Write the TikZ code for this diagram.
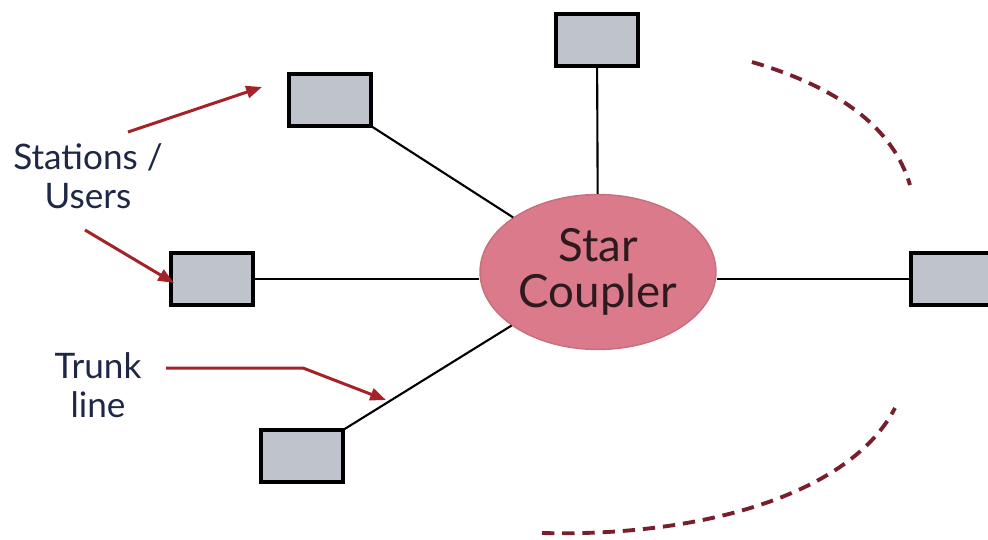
\documentclass[tikz,border=0pt]{standalone}
\usepackage{fontspec}
\setmainfont{Lato}
\usetikzlibrary{shapes.geometric,arrows.meta}
\definecolor{boxgray}{RGB}{191,195,203}
\definecolor{pinkfill}{RGB}{218,122,138}
\definecolor{pinkedge}{RGB}{200,110,125}
\definecolor{arrowred}{RGB}{165,35,40}
\definecolor{dashred}{RGB}{120,30,45}
\definecolor{navy}{RGB}{30,40,70}
\definecolor{darktext}{RGB}{45,25,30}
\begin{document}
\begin{tikzpicture}[x=0.02cm,y=-0.02cm,
  station/.style={draw=black,line width=2.3pt,fill=boxgray,minimum width=1.64cm,minimum height=1.04cm,inner sep=0pt,outer sep=0pt},
  trunk/.style={draw=black,line width=1.2pt},
  pointer/.style={draw=arrowred,line width=1.7pt,-{Triangle[length=9pt,width=7pt]}},
  dashedarc/.style={draw=dashred,line width=2.2pt,dash pattern=on 7pt off 4.5pt},
  label/.style={text=navy,font=\fontsize{20}{22}\selectfont,align=center,inner sep=0pt}]
\useasboundingbox (0,0) rectangle (988,539);
\clip (0,0) rectangle (988,539);
\fill[white] (0,0) rectangle (988,539);
% hub
\node[ellipse,draw=pinkedge,line width=0.8pt,fill=pinkfill,minimum width=4.72cm,minimum height=3.1cm,inner sep=0pt,
  text=darktext,align=center,font=\fontsize{26}{26}\selectfont] (hub) at (598,272) {Star\\Coupler};
% stations
\node[station] (top) at (597,40) {};
\node[station] (ul) at (330,100) {};
\node[station] (left) at (212,279) {};
\node[station] (ll) at (302,456) {};
\node[station] (right) at (952,279) {};
% trunk lines
\draw[trunk] (top) -- (hub);
\draw[trunk] (ul.south east) -- (hub);
\draw[trunk] (left.east) -- (left.east -| hub.west);
\draw[trunk] (ll.north east) -- (hub);
\draw[trunk] (right.west -| hub.east) -- (right.west);
% labels
\node[label] (stations) at (88,176) {Stations /\\Users};
\node[label] (trunklabel) at (98,385) {Trunk\\line};
% pointer arrows
\coordinate (a1s) at (128,132);
\coordinate (a1e) at (262,87);
\coordinate (a2s) at (85,230);
\coordinate (a2e) at (174,283);
\coordinate (a3s) at (166,368);
\coordinate (a3b) at (303,368);
\coordinate (a3e) at (386,400);
\draw[pointer] (a1s) -- (a1e);
\draw[pointer] (a2s) -- (a2e);
\draw[pointer] (a3s) -- (a3b) -- (a3e);
% dashed arcs
\coordinate (d1s) at (752,62);
\coordinate (d1e) at (910,185);
\coordinate (d2s) at (542,533);
\coordinate (d2e) at (895,408);
\draw[dashedarc] (d1s) .. controls (840,88) and (893,128) .. (d1e);
\draw[dashedarc] (d2s) .. controls (700,537) and (850,495) .. (d2e);
\end{tikzpicture}
\end{document}
